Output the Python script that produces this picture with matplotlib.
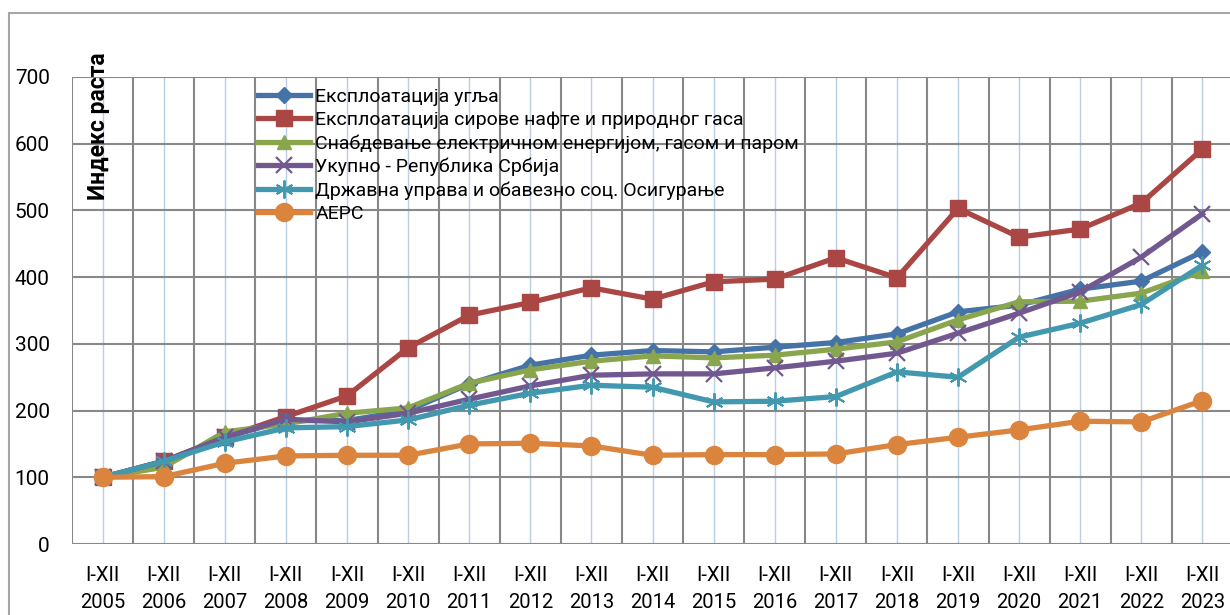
import numpy as np
import matplotlib.pyplot as plt
from matplotlib.patches import Rectangle

plt.rcParams['font.family'] = ['Roboto', 'DejaVu Sans']

years = [str(y) for y in range(2005, 2024)]
xlabels = ["I-XII\n" + y for y in years]

ugalj = [100, 120, 160, 185, 185, 200, 240, 268, 283, 290, 288, 295, 302, 315, 348, 358, 382, 394, 438]
nafta_gas = [100, 124, 160, 191, 222, 294, 343, 362, 384, 367, 393, 397, 429, 399, 503, 460, 472, 511, 592]
energija = [100, 115, 168, 180, 196, 204, 241, 261, 274, 282, 279, 283, 292, 303, 336, 363, 364, 376, 409]
ukupno = [100, 124, 160, 187, 183, 196, 217, 237, 253, 255, 255, 264, 274, 286, 316, 346, 378, 430, 495]
uprava = [100, 124, 153, 174, 176, 186, 208, 226, 238, 235, 213, 214, 221, 258, 250, 310, 331, 359, 418]
aers = [100, 101, 121, 132, 133, 133, 150, 151, 147, 133, 134, 134, 135, 149, 160, 171, 184, 183, 215]

names = ["Експлоатација угља",
         "Експлоатација сирове нафте и природног гаса",
         "Снабдевање електричном енергијом, гасом и паром",
         "Укупно - Република Србија",
         "Државна управа и обавезно соц. Осигурање",
         "АЕРС"]

W, H = 1230, 615
fig = plt.figure(figsize=(W / 100, H / 100), dpi=100)
ax = fig.add_axes([72 / W, 1 - 544 / H, (1233 - 72) / W, (544 - 77) / H])

# outer chart frame
fig.patches.append(Rectangle((9 / W, -0.1), 1.2, 1 - 13 / H + 0.1, transform=fig.transFigure,
                             fill=False, edgecolor='#a6a6a6', lw=1.5, zorder=0))

x = np.arange(len(years))

# gridlines: grey at category boundaries, light blue at category centres
for b in np.arange(-0.5, len(years), 1.0):
    ax.axvline(b, color='#888888', lw=1.5, zorder=1)
for c in x:
    ax.axvline(c, color='#b9cde5', lw=1.0, zorder=1)
for yv in range(0, 701, 100):
    ax.axhline(yv, color='#888888', lw=1.5, zorder=1)

lw = 3.8
ax.plot(x, ugalj, color='#4572a7', lw=lw, marker='D', ms=8, label=names[0], zorder=5)
ax.plot(x, nafta_gas, color='#aa4643', lw=lw, marker='s', ms=12, label=names[1], zorder=4)
ax.plot(x, energija, color='#89a54e', lw=lw, marker='^', ms=10, label=names[2], zorder=6)
ax.plot(x, ukupno, color='#71588f', lw=lw, marker='x', ms=11, mew=1.6, label=names[3], zorder=7)
ax.plot(x, uprava, color='#4198af', lw=lw, marker=(6, 2, 0), ms=13, mew=1.4, label=names[4], zorder=8)
ax.plot(x, aers, color='#db843d', lw=lw, marker='o', ms=13, label=names[5], zorder=9)

ax.set_xlim(-0.5, len(years) - 0.5)
ax.set_ylim(0, 700)
ax.set_yticks(range(0, 701, 100))
ax.set_xticks(x)
ax.set_xticklabels(xlabels, fontsize=14.5, linespacing=1.5)
ax.tick_params(axis='both', length=0)
ax.tick_params(axis='x', pad=16)
ax.tick_params(axis='y', pad=16, labelsize=15)
for s in ax.spines.values():
    s.set_visible(False)

fig.text(99 / W, 1 - 126 / H, "Индекс раста", rotation=90, fontsize=16.5, fontweight='bold',
         ha='center', va='center')

ax.legend(loc='upper left', bbox_to_anchor=(258 / W, 1 - 88 / H), bbox_transform=fig.transFigure,
          frameon=False, fontsize=14, handlelength=2.65, handletextpad=0.3,
          labelspacing=0.26, borderpad=0, borderaxespad=0)

fig.savefig("out.png", dpi=100)
